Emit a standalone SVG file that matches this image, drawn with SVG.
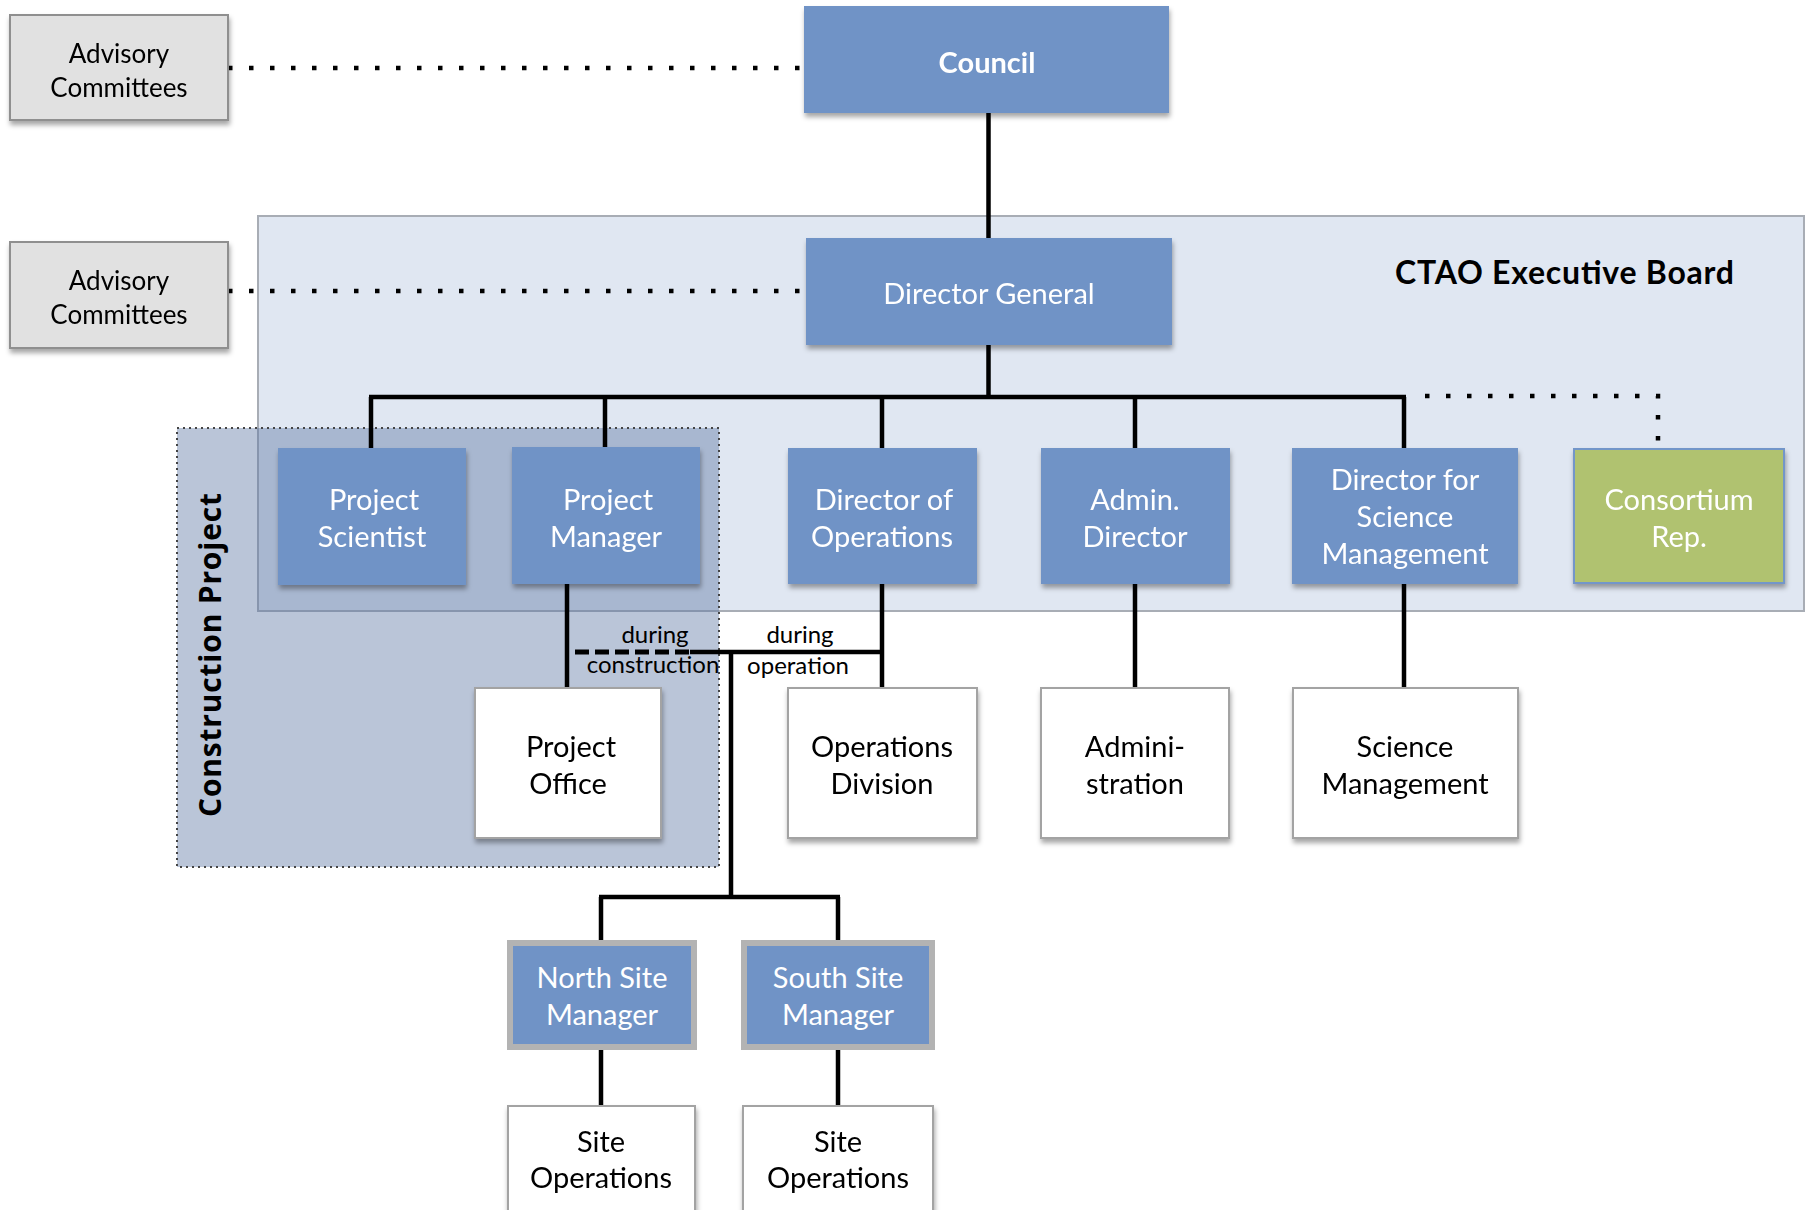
<svg xmlns="http://www.w3.org/2000/svg" width="1811" height="1210" viewBox="0 0 1811 1210">
<defs>
<filter id="sh" x="-10%" y="-10%" width="120%" height="130%">
<feDropShadow dx="1" dy="4" stdDeviation="2.5" flood-color="#000" flood-opacity="0.35"/>
</filter>
<style>
.blue{fill:#7093c6;}
.wbox{fill:#ffffff;stroke:#a3a3a3;stroke-width:2;}
.gbox{fill:#e1e1e1;stroke:#8f8f8f;stroke-width:2;}
.site{fill:#7093c6;stroke:#b3b3b3;stroke-width:6;}
.green{fill:#b0c26f;stroke:#7396c9;stroke-width:2;}
.t{font-family:Lato,"Open Sans",sans-serif;font-size:29px;text-anchor:middle;}
.tw{fill:#ffffff;}
.tk{fill:#000000;}
.adv{font-family:Lato,"Open Sans",sans-serif;font-size:26px;text-anchor:middle;fill:#000;}
.small{font-family:Lato,"Open Sans",sans-serif;font-size:24px;text-anchor:middle;fill:#000;}
.ln{stroke:#000;stroke-width:4.5;fill:none;}
.dot{stroke:#000;stroke-width:4.5;fill:none;stroke-dasharray:4.5 16.5;}
.dash{stroke:#000;stroke-width:5;fill:none;stroke-dasharray:14 6;}
</style>
</defs>
<rect width="1811" height="1210" fill="#ffffff"/>

<g id="exec-board">
<rect x="258" y="216" width="1546" height="395" fill="#e0e7f2" stroke="#a8adb5" stroke-width="2"/>
<text x="1734" y="284" font-family="Lato,'Open Sans',sans-serif" font-size="32" font-weight="bold" text-anchor="end" textLength="339" fill="#000">CTAO Executive Board</text>
</g>

<g id="construction-project">
<rect x="177" y="428" width="542" height="439" fill="#5a74a3" fill-opacity="0.42" stroke="#444" stroke-width="2" stroke-dasharray="2 4"/>
<text transform="translate(221,655) rotate(-90)" font-family="'Open Sans',Lato,sans-serif" font-size="30" font-weight="bold" text-anchor="middle" textLength="324" fill="#000">Construction Project</text>
</g>

<g id="connectors">
<line class="dot" x1="228" y1="68" x2="804" y2="68"/>
<line class="dot" x1="228" y1="291" x2="806" y2="291"/>
<line class="ln" x1="988.5" y1="113" x2="988.5" y2="238"/>
<line class="ln" x1="988.5" y1="345" x2="988.5" y2="397"/>
<line class="ln" x1="369" y1="397" x2="1406" y2="397"/>
<line class="ln" x1="371" y1="397" x2="371" y2="448"/>
<line class="ln" x1="605" y1="397" x2="605" y2="448"/>
<line class="ln" x1="882" y1="397" x2="882" y2="448"/>
<line class="ln" x1="1135" y1="397" x2="1135" y2="448"/>
<line class="ln" x1="1404" y1="397" x2="1404" y2="448"/>
<path class="dot" d="M1425,396 H1658 V444"/>
<line class="ln" x1="567" y1="584" x2="567" y2="688"/>
<line class="ln" x1="882" y1="584" x2="882" y2="688"/>
<line class="ln" x1="1135" y1="584" x2="1135" y2="688"/>
<line class="ln" x1="1404" y1="584" x2="1404" y2="688"/>
<line class="dash" x1="575" y1="652" x2="690" y2="652"/>
<line class="ln" x1="690" y1="652" x2="884" y2="652"/>
<line class="ln" x1="731" y1="652" x2="731" y2="897"/>
<line class="ln" x1="599" y1="897" x2="840" y2="897"/>
<line class="ln" x1="601" y1="897" x2="601" y2="940"/>
<line class="ln" x1="838" y1="897" x2="838" y2="940"/>
<line class="ln" x1="601" y1="1050" x2="601" y2="1106"/>
<line class="ln" x1="838" y1="1050" x2="838" y2="1106"/>
<text class="small" x="655" y="643">during</text>
<text class="small" x="653" y="673">construction</text>
<text class="small" x="800" y="643">during</text>
<text class="small" x="798" y="674">operation</text>
</g>

<g id="advisory-committees-1" filter="url(#sh)">
<rect class="gbox" x="10" y="15" width="218" height="105"/>
<text class="adv" x="119" y="63">Advisory</text>
<text class="adv" x="119" y="97">Committees</text>
</g>
<g id="advisory-committees-2" filter="url(#sh)">
<rect class="gbox" x="10" y="242" width="218" height="106"/>
<text class="adv" x="119" y="290">Advisory</text>
<text class="adv" x="119" y="324">Committees</text>
</g>

<g id="council" filter="url(#sh)">
<rect class="blue" x="804" y="6" width="365" height="107"/>
<text class="t tw" x="987" y="73" font-weight="bold" font-size="28">Council</text>
</g>

<g id="director-general" filter="url(#sh)">
<rect class="blue" x="806" y="238" width="366" height="107"/>
<text class="t tw" x="989" y="304">Director General</text>
</g>

<g id="project-scientist" filter="url(#sh)">
<rect class="blue" x="278" y="448" width="188" height="137"/>
<text class="t tw" x="374" y="510">Project</text>
<text class="t tw" x="372" y="547">Scientist</text>
</g>

<g id="project-manager" filter="url(#sh)">
<rect class="blue" x="512" y="447" width="188" height="137"/>
<text class="t tw" x="608" y="510">Project</text>
<text class="t tw" x="606" y="547">Manager</text>
</g>

<g id="director-of-operations" filter="url(#sh)">
<rect class="blue" x="788" y="448" width="189" height="136"/>
<text class="t tw" x="884" y="510">Director of</text>
<text class="t tw" x="882" y="547">Operations</text>
</g>

<g id="admin-director" filter="url(#sh)">
<rect class="blue" x="1041" y="448" width="189" height="136"/>
<text class="t tw" x="1135" y="510">Admin.</text>
<text class="t tw" x="1135" y="547">Director</text>
</g>

<g id="director-science-management" filter="url(#sh)">
<rect class="blue" x="1292" y="448" width="226" height="136"/>
<text class="t tw" x="1405" y="490">Director for</text>
<text class="t tw" x="1405" y="527">Science</text>
<text class="t tw" x="1405" y="564">Management</text>
</g>

<g id="consortium-rep" filter="url(#sh)">
<rect class="green" x="1574" y="449" width="210" height="134"/>
<text class="t tw" x="1679" y="510">Consortium</text>
<text class="t tw" x="1679" y="547">Rep.</text>
</g>

<g id="project-office" filter="url(#sh)">
<rect class="wbox" x="475" y="688" width="186" height="150"/>
<text class="t tk" x="571" y="757">Project</text>
<text class="t tk" x="568" y="794">Office</text>
</g>

<g id="operations-division" filter="url(#sh)">
<rect class="wbox" x="788" y="688" width="189" height="150"/>
<text class="t tk" x="882" y="757">Operations</text>
<text class="t tk" x="882" y="794">Division</text>
</g>

<g id="administration" filter="url(#sh)">
<rect class="wbox" x="1041" y="688" width="188" height="150"/>
<text class="t tk" x="1135" y="757">Admini-</text>
<text class="t tk" x="1135" y="794">stration</text>
</g>

<g id="science-management" filter="url(#sh)">
<rect class="wbox" x="1293" y="688" width="225" height="150"/>
<text class="t tk" x="1405" y="757">Science</text>
<text class="t tk" x="1405" y="794">Management</text>
</g>

<g id="north-site-manager">
<rect class="site" x="510" y="943" width="184" height="104"/>
<text class="t tw" x="602" y="988">North Site</text>
<text class="t tw" x="602" y="1025">Manager</text>
</g>

<g id="south-site-manager">
<rect class="site" x="744" y="943" width="188" height="104"/>
<text class="t tw" x="838" y="988">South Site</text>
<text class="t tw" x="838" y="1025">Manager</text>
</g>

<g id="site-operations-north" filter="url(#sh)">
<rect class="wbox" x="508" y="1106" width="187" height="130"/>
<text class="t tk" x="601" y="1152">Site</text>
<text class="t tk" x="601" y="1188">Operations</text>
</g>

<g id="site-operations-south" filter="url(#sh)">
<rect class="wbox" x="743" y="1106" width="190" height="130"/>
<text class="t tk" x="838" y="1152">Site</text>
<text class="t tk" x="838" y="1188">Operations</text>
</g>
</svg>
